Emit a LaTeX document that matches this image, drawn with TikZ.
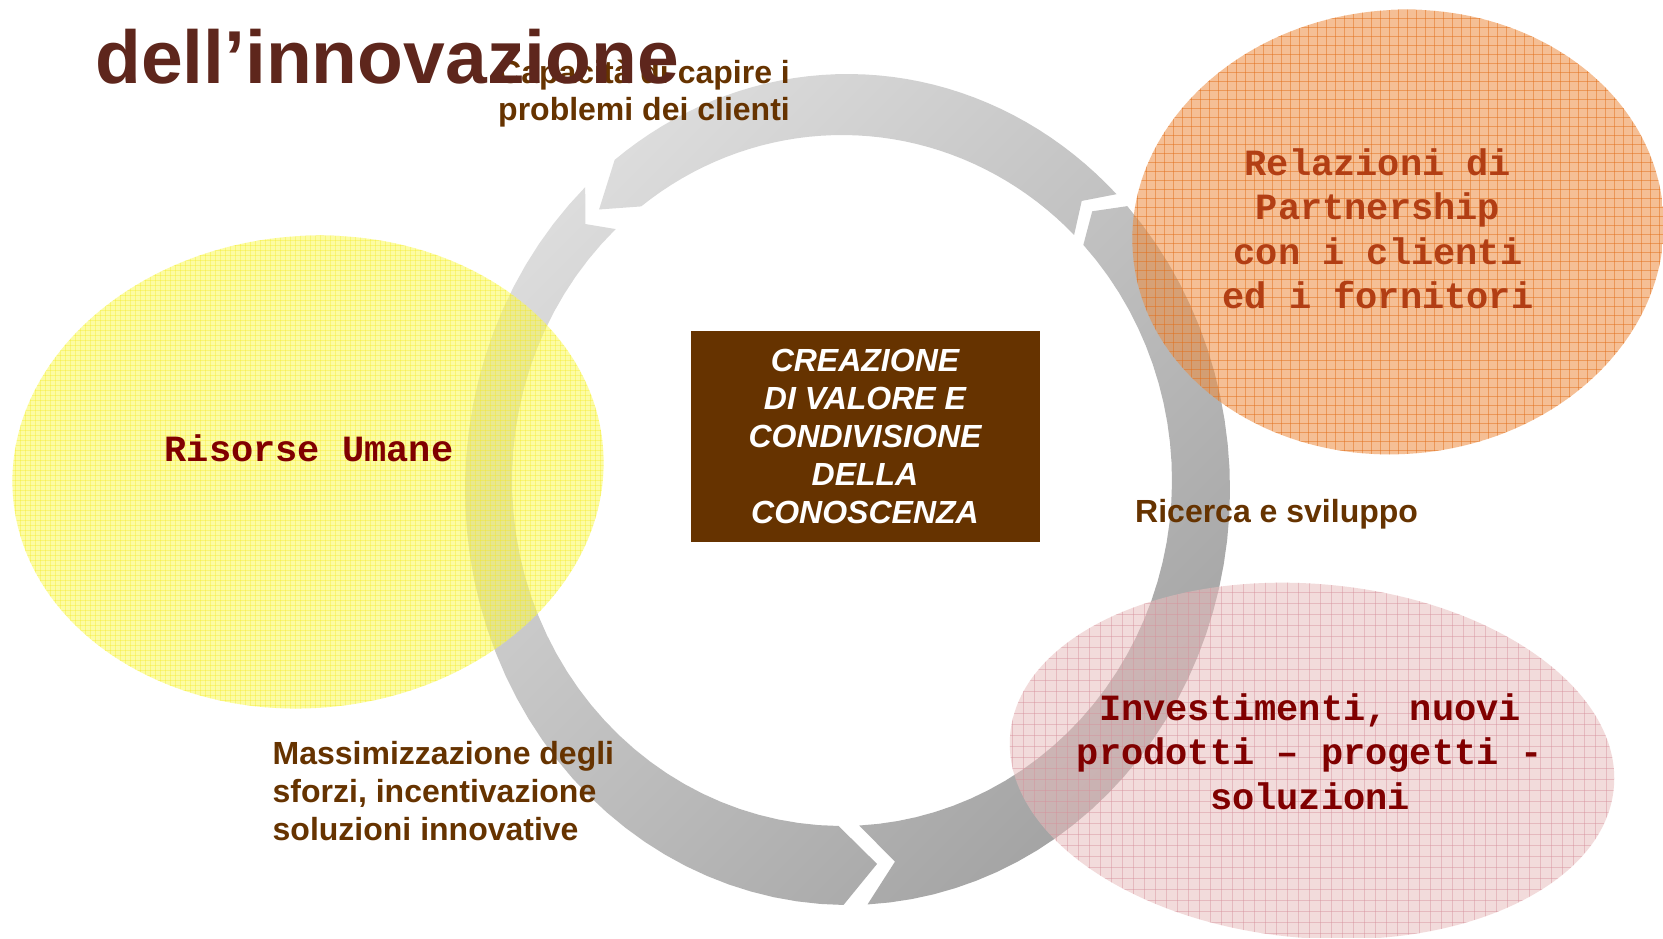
\documentclass[tikz,border=0pt]{standalone}
\usepackage{fontspec}
\setmainfont{Liberation Sans}
\newfontfamily\monofam{Liberation Mono}
\definecolor{ringlight}{RGB}{220,220,220}
\definecolor{ringdark}{RGB}{164,164,164}
\definecolor{titlebrown}{RGB}{94,38,28}
\definecolor{capbrown}{RGB}{102,51,0}
\definecolor{boxbrown}{RGB}{102,51,0}
\definecolor{relcol}{RGB}{178,62,20}
\definecolor{maroon}{RGB}{128,0,0}
\definecolor{ybase}{RGB}{250,250,90}
\definecolor{yline}{RGB}{245,232,30}
\definecolor{obase}{RGB}{238,140,62}
\definecolor{oline}{RGB}{226,112,28}
\definecolor{pbase}{RGB}{233,190,190}
\definecolor{pline}{RGB}{214,145,155}
\newcommand{\ringseg}[4]{%
  plot[domain=#1:#2, samples=40] ({847.5+382.5*cos(\x)},{489.5+415.5*sin(\x)})
  -- ({844.75+356.25*cos(#3)},{485+380.5*sin(#3)})
  -- plot[domain=#2:#1, samples=40] ({842+330*cos(\x)},{480.5+345.5*sin(\x)})
  -- ({844.75+356.25*cos(#4)},{485+380.5*sin(#4)}) -- cycle }
\tikzset{
  sanslbl/.style={inner sep=0, text=capbrown, font=\fontsize{32}{37}\selectfont\bfseries},
  monolbl/.style={inner sep=0, font=\monofam\fontsize{37}{44.5}\selectfont\bfseries, align=center},
}
\begin{document}
\begin{tikzpicture}[x=1pt,y=-1pt]
\useasboundingbox (0,0) rectangle (1663,938);
\fill[white] (0,0) rectangle (1663,938);
% ring of three arrows
\path[top color=ringlight, bottom color=ringdark, shading angle=45]
  \ringseg{226.7}{90.6}{84.8}{223.3}
  \ringseg{87}{-43}{-46}{81.9}
  \ringseg{-45.3}{-127.5}{-133.6}{-48.3};
% yellow ellipse
\begin{scope}
  \clip[rotate around={5:(308,472)}] (308,472) ellipse [x radius=296, y radius=236];
  \fill[ybase, fill opacity=0.55] (0,220) rectangle (630,730);
  \foreach \k in {0,5,...,630} \draw[yline, draw opacity=0.35, line width=0.7] (\k,220) -- (\k,730);
  \foreach \k in {220,225,...,730} \draw[yline, draw opacity=0.35, line width=0.7] (0,\k) -- (630,\k);
\end{scope}
% orange ellipse
\begin{scope}
  \clip[rotate around={5:(1398,232)}] (1398,232) ellipse [x radius=266, y radius=222];
  \fill[obase, fill opacity=0.55] (1110,0) rectangle (1663,470);
  \foreach \k in {1110,1119,...,1663} \draw[oline, draw opacity=0.5, line width=1] (\k,0) -- (\k,470);
  \foreach \k in {0,9,...,470} \draw[oline, draw opacity=0.5, line width=1] (1110,\k) -- (1663,\k);
\end{scope}
% pink ellipse
\begin{scope}
  \clip[rotate around={-5:(1312,761)}] (1312,761) ellipse [x radius=303, y radius=177];
  \fill[pbase, fill opacity=0.55] (990,570) rectangle (1663,938);
  \foreach \k in {990,1001,...,1663} \draw[pline, draw opacity=0.45, line width=0.8] (\k,570) -- (\k,938);
  \foreach \k in {570,581,...,938} \draw[pline, draw opacity=0.45, line width=0.8] (990,\k) -- (1663,\k);
\end{scope}
% centre box
\node[fill=boxbrown, minimum width=349, minimum height=211, inner sep=0, text=white,
      align=center, font=\fontsize{32}{38}\selectfont\bfseries\itshape] (core) at (865,436.5)
  {CREAZIONE\\DI VALORE E\\CONDIVISIONE\\DELLA\\CONOSCENZA};
% labels (multi-line nodes: base = baseline of last line)
\node[sanslbl, anchor=base west, align=left] (capire) at (498,120) {Capacità di capire i\\problemi dei clienti};
\node[anchor=base west, inner sep=0, text=titlebrown, font=\fontsize{75}{80}\selectfont\bfseries] (title) at (95,83) {dell’innovazione};
\node[sanslbl, anchor=base west] (ricerca) at (1135,522) {Ricerca e sviluppo};
\node[sanslbl, anchor=base west, align=left, font=\fontsize{32}{38}\selectfont\bfseries] (massim) at (272.5,840) {Massimizzazione degli\\sforzi, incentivazione\\soluzioni innovative};
\node[monolbl, anchor=base, text=relcol] (relaz) at (1378,308.6) {Relazioni di\\Partnership\\con i clienti\\ed i fornitori};
\node[monolbl, anchor=base, text=maroon] (risorse) at (309,461) {Risorse Umane};
\node[monolbl, anchor=base, text=maroon] (invest) at (1310,809) {Investimenti, nuovi\\prodotti – progetti -\\soluzioni};
\end{tikzpicture}
\end{document}
